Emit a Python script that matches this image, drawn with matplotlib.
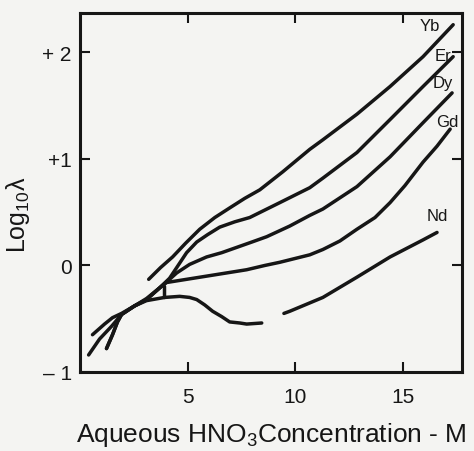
import matplotlib

matplotlib.use("Agg")
import matplotlib.pyplot as plt

# values (x: HNO3 molarity, y: log10 lambda)
yb_x = [3.19, 3.74, 4.30, 4.91, 5.56, 6.26, 6.95, 7.65, 8.35, 9.42, 10.67, 11.28, 12.86, 14.40, 15.93, 17.33]
yb_y = [-0.13, -0.02, 0.08, 0.21, 0.34, 0.45, 0.54, 0.63, 0.71, 0.88, 1.09, 1.18, 1.42, 1.68, 1.96, 2.26]

er_x = [1.23, 1.51, 1.74, 1.93, 2.53, 3.09, 3.70, 4.16, 4.49, 4.95, 5.42, 5.93, 6.49, 7.19, 7.88,
        8.58, 9.28, 10.67, 11.28, 12.86, 14.40, 15.93, 17.33]
er_y = [-0.78, -0.65, -0.53, -0.46, -0.38, -0.32, -0.21, -0.12, -0.02, 0.12, 0.22, 0.29, 0.36, 0.41, 0.45,
        0.52, 0.59, 0.73, 0.82, 1.06, 1.37, 1.68, 1.96]

dy_x = [1.23, 1.51, 1.74, 1.93, 2.53, 3.09, 3.70, 4.16, 4.49, 5.09, 5.88, 6.58, 7.28, 7.98, 8.67,
        9.74, 10.67, 11.28, 12.86, 14.40, 15.93, 17.28]
dy_y = [-0.78, -0.65, -0.53, -0.46, -0.38, -0.32, -0.21, -0.13, -0.07, 0.01, 0.08, 0.12, 0.17, 0.22, 0.27,
        0.37, 0.47, 0.53, 0.74, 1.02, 1.34, 1.62]

gd_x = [0.40, 0.91, 1.47, 1.93, 2.53, 3.09, 3.70, 4.02, 4.95, 5.88, 6.81, 7.74, 8.58, 9.28, 10.67,
        11.28, 12.07, 12.86, 13.70, 14.40, 15.09, 15.93, 16.58, 17.19]
gd_y = [-0.84, -0.69, -0.57, -0.46, -0.38, -0.31, -0.21, -0.16, -0.13, -0.10, -0.07, -0.04, 0.00, 0.03, 0.10,
        0.15, 0.23, 0.34, 0.45, 0.59, 0.75, 0.97, 1.12, 1.28]

nd_low_x = [0.58, 1.14, 1.51, 1.93, 2.53, 3.09, 3.93, 4.63, 5.09, 5.42, 5.79, 6.16, 6.58, 6.95, 7.42, 7.74, 8.44]
nd_low_y = [-0.65, -0.55, -0.49, -0.45, -0.38, -0.33, -0.30, -0.29, -0.30, -0.32, -0.37, -0.43, -0.48,
            -0.53, -0.54, -0.55, -0.54]
nd_high_x = [9.47, 9.74, 11.28, 12.86, 14.40, 15.93, 16.58]
nd_high_y = [-0.45, -0.43, -0.30, -0.11, 0.08, 0.24, 0.31]

# short vertical stroke joining Nd and Gd in the original drawing
tie_x = [3.88, 3.88]
tie_y = [-0.19, -0.30]

curve_names = ["Yb", "Er", "Dy", "Gd", "Nd"]
name_x = [16.26, 16.86, 16.86, 17.05, 16.58]
name_y = [2.25, 1.97, 1.72, 1.35, 0.47]

x_ticks = [5, 10, 15]
y_ticks = [-1, 0, 1, 2]
y_tick_labels = ["\u2013 1", "0", "+1", "+ 2"]

plt.rcParams["font.family"] = ["Liberation Sans", "DejaVu Sans"]
plt.rcParams["mathtext.default"] = "regular"

ink = "#161616"
paper = "#f4f4f2"

fig = plt.figure(figsize=(4.74, 4.52), dpi=100, facecolor=paper)
ax = fig.add_axes([80 / 474, 1 - 373 / 452, (462 - 80) / 474, (373 - 14) / 452])
ax.set_facecolor(paper)

lw = 2.5
for xs, ys in [(yb_x, yb_y), (er_x, er_y), (dy_x, dy_y), (gd_x, gd_y),
               (nd_low_x, nd_low_y), (nd_high_x, nd_high_y), (tie_x, tie_y)]:
    ax.plot(xs, ys, color=ink, linewidth=lw, solid_capstyle="round", solid_joinstyle="round")

for name, tx, ty in zip(curve_names, name_x, name_y):
    ax.text(tx, ty, name, fontsize=12, color=ink, ha="center", va="center")

ax.set_xlim(0, 17.74)
ax.set_ylim(-1.0, 2.37)
ax.set_xticks(x_ticks)
ax.set_yticks(y_ticks)
ax.set_yticklabels(y_tick_labels)

ax.tick_params(direction="in", length=7, width=1.5, colors=ink, labelsize=15,
               top=True, right=True)
ax.tick_params(axis="x", pad=11)
ax.tick_params(axis="y", pad=6)
for spine in ax.spines.values():
    spine.set_linewidth(2.2)
    spine.set_color(ink)

ax.set_xlabel("Aqueous HNO$_3$Concentration - M", fontsize=19, color=ink, labelpad=10)
ax.set_ylabel("Log$_{10}$\u03bb", fontsize=18, color=ink)
ax.yaxis.set_label_coords(-0.125, 0.44)

fig.savefig("out.png", dpi=100, facecolor=paper)
